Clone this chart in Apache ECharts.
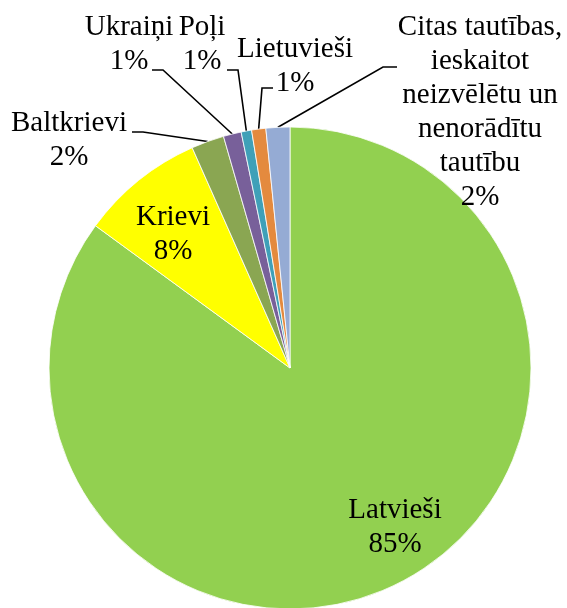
<!DOCTYPE html>
<html>
<head>
<meta charset="utf-8">
<script src="https://cdn.jsdelivr.net/npm/echarts@6/dist/echarts.min.js"></script>
<style>
	html, body { margin: 0; padding: 0; background: #fff; }
	#chart-area { width: 567px; height: 608px; }
</style>
</head>
<body>
<div id="chart-area"></div>
<script>
// tautību sadalījums (%)
var names = ['Latvieši', 'Krievi', 'Baltkrievi', 'Ukraiņi', 'Poļi', 'Lietuvieši',
	'Citas tautības,\nieskaitot\nneizvēlētu un\nnenorādītu\ntautību'];
var values = [85.05, 8.3, 2.2, 1.2, 0.7, 0.95, 1.6];
var colors = ['#92D050', '#FFFF00', '#8AA652', '#78609A', '#3FA0B8', '#E48A3E', '#95ABD4'];

// label centres and leader line start/elbow
var labelPos = [
	{x: 395, y: 527},
	{x: 173, y: 234},
	{x: 69, y: 140, line: [[132, 132], [143, 132]]},
	{x: 129, y: 44, line: [[152, 70], [163, 70]]},
	{x: 202, y: 44, line: [[227, 70], [238, 70]]},
	{x: 295, y: 66, line: [[273, 88], [262, 88]]},
	{x: 480, y: 112, line: [[397, 67], [383, 67]]}
];

var pieData = [];
for (var i = 0; i < names.length; i++) {
	pieData.push({
		name: names[i],
		value: values[i],
		itemStyle: {color: colors[i]},
		labelLine: {show: !!labelPos[i].line}
	});
}

var myChart = echarts.init(document.getElementById('chart-area'));
var option = {
	animation: false,
	series: [{
		type: 'pie',
		center: [290, 368],
		radius: [0, 241],
		startAngle: 90,
		clockwise: true,
		avoidLabelOverlap: false,
		itemStyle: {borderColor: '#fff', borderWidth: 0.8},
		label: {
			show: true,
			position: 'outside',
			fontFamily: '"Liberation Serif", "Times New Roman", serif',
			fontSize: 29,
			lineHeight: 34,
			color: '#000',
			align: 'center',
			formatter: function (p) {
				return p.name + '\n' + Math.round(p.percent) + '%';
			}
		},
		labelLine: {
			show: true,
			length: 10,
			length2: 10,
			lineStyle: {color: '#000', width: 1.6}
		},
		labelLayout: function (params) {
			var pos = labelPos[params.dataIndex];
			var res = {x: pos.x, y: pos.y, align: 'center', verticalAlign: 'middle'};
			if (pos.line && params.labelLinePoints) {
				var anchor = params.labelLinePoints[0];
				res.labelLinePoints = [anchor, pos.line[1], pos.line[0]];
			}
			return res;
		},
		data: pieData
	}]
};
myChart.setOption(option);
</script>
</body>
</html>
